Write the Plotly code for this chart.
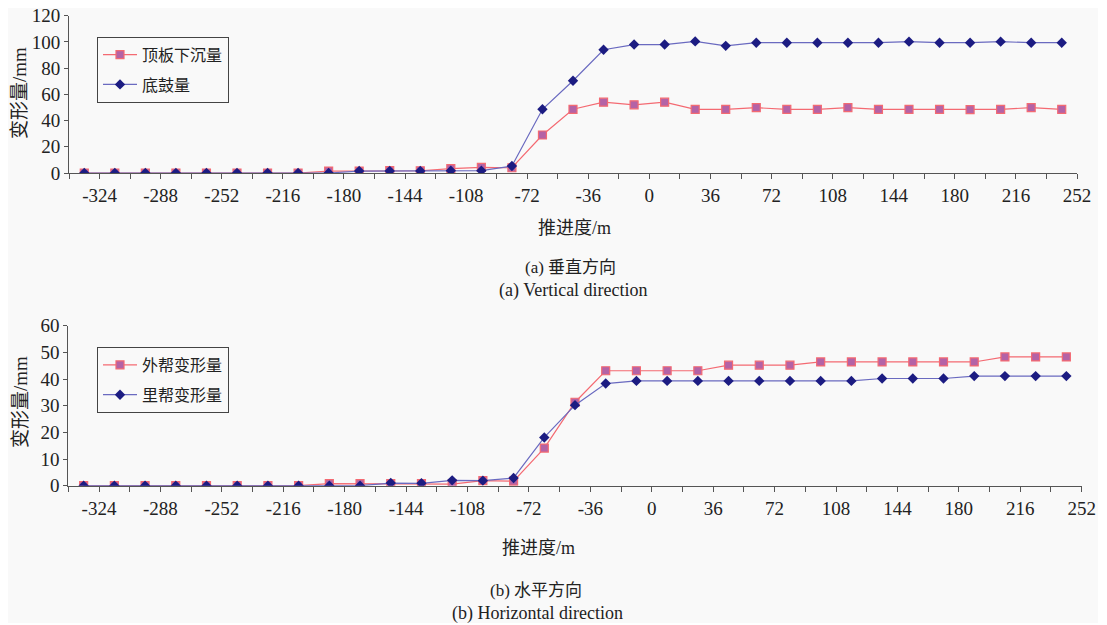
import plotly.graph_objects as go

# 推进度 (m) positions of the measuring points
advance = [-333, -315, -297, -279, -261, -243, -225, -207, -189, -171, -153,
           -135, -117, -99, -81, -63, -45, -27, -9, 9, 27, 45, 63, 81, 99,
           117, 135, 153, 171, 189, 207, 225, 243]

# (a) vertical direction
roof_sag = [0, 0, 0, 0, 0, 0, 0, 0, 1.5, 1.5, 1.8, 1.7, 3.3, 4.3, 4, 29, 48.6,
            54, 52, 54, 48.6, 48.6, 49.8, 48.6, 48.6, 49.8, 48.6, 48.6, 48.6,
            48.4, 48.6, 49.8, 48.6]
floor_heave = [0, 0, 0, 0, 0, 0, 0, 0, 0, 1.5, 1.5, 1.5, 1.8, 1.8, 5.3, 48.6,
               70.4, 94, 98, 98, 100.4, 97, 99.4, 99.4, 99.4, 99.4, 99.4, 100.2,
               99.4, 99.4, 100.2, 99.4, 99.4]

# (b) horizontal direction
outer_rib = [0, 0, 0, 0, 0, 0, 0, 0, 0.75, 0.75, 0.8, 0.75, 0.6, 1.9, 1.7, 14.1,
             31.3, 43.1, 43.1, 43.1, 43.1, 45.2, 45.2, 45.2, 46.4, 46.4, 46.4,
             46.4, 46.4, 46.4, 48.3, 48.3, 48.3]
inner_rib = [0, 0, 0, 0, 0, 0, 0, 0, 0, 0, 1.0, 0.9, 2.0, 1.9, 2.9, 18.1, 30.2,
             38.3, 39.3, 39.3, 39.3, 39.3, 39.3, 39.3, 39.3, 39.3, 40.2, 40.2,
             40.2, 41.1, 41.1, 41.1, 41.1]

tick_vals = [-324, -288, -252, -216, -180, -144, -108, -72, -36, 0, 36, 72,
             108, 144, 180, 216, 252]
tick_text = ["-324", "-288", "-252", "-216", "-180", "-144", "-108", "-72",
             "-36", "0", "36", "72", "108", "144", "180", "216", "252"]

# the page body has an 8px margin; the figure sits at (8, 8)
OFF = 8
W, H = 1090, 615
SERIF = "Liberation Serif, Times New Roman, Noto Sans CJK SC, serif"
CJK = "Noto Sans CJK SC, Liberation Serif, sans-serif"
BG = "#f9f9f9"
AX = "#555555"


def fx(px):
    return (px - OFF) / W


def fy(py):
    return 1 - (py - OFF) / H


red_line = "#f46a72"
red_fill = "#b463a6"
blue_line = "#6a6ac0"
blue_fill = "#1c1c82"

fig = go.Figure()


def add_pair(ys_sq, ys_di, name_sq, name_di, xa, ya, leg):
    fig.add_trace(go.Scatter(
        x=advance, y=ys_sq, name=name_sq, mode="lines+markers",
        line=dict(color=red_line, width=1.2),
        marker=dict(symbol="square", size=8, color=red_fill,
                    line=dict(color=red_line, width=1.2)),
        xaxis=xa, yaxis=ya, legend=leg, legendgroup=leg + "a"))
    fig.add_trace(go.Scatter(
        x=advance, y=ys_di, name=name_di, mode="lines+markers",
        line=dict(color=blue_line, width=1.2),
        marker=dict(symbol="diamond", size=8, color=blue_fill,
                    line=dict(color=blue_fill, width=0)),
        xaxis=xa, yaxis=ya, legend=leg, legendgroup=leg + "b"))


add_pair(roof_sag, floor_heave, "顶板下沉量", "底鼓量", "x", "y", "legend")
add_pair(outer_rib, inner_rib, "外帮变形量", "里帮变形量", "x2", "y2", "legend2")

xcommon = dict(
    range=[-342, 252], tickvals=tick_vals, ticktext=tick_text,
    ticks="outside", ticklen=5,
    tickcolor=AX, showline=True, linecolor=AX, linewidth=1,
    showgrid=False, zeroline=False, automargin=False,
    ticklabeloverflow="allow",
    tickfont=dict(family=SERIF, size=19, color="#222"),
    minor=dict(dtick=18, tick0=-342, ticks="outside", ticklen=5,
               tickcolor=AX, showgrid=False),
)
ycommon = dict(
    ticks="outside", ticklen=4, tickcolor=AX, showline=True, linecolor=AX,
    linewidth=1, showgrid=False, zeroline=False, automargin=False,
    ticklabeloverflow="allow",
    tickfont=dict(family=SERIF, size=19, color="#222"),
)

legcommon = dict(
    bgcolor=BG, bordercolor="#444", borderwidth=1,
    font=dict(family=CJK, size=16, color="#222"),
    xanchor="left", yanchor="top", tracegroupgap=6, traceorder="grouped",
    itemwidth=34,
)

fig.update_layout(
    width=W, height=H,
    margin=dict(l=0, r=0, t=0, b=0, pad=0, autoexpand=False),
    paper_bgcolor=BG, plot_bgcolor=BG, showlegend=True,
    xaxis=dict(domain=[fx(69), fx(1077)], anchor="y", **xcommon),
    yaxis=dict(domain=[fy(173), fy(15.7)], anchor="x",
               range=[0, 120], dtick=20, **ycommon),
    xaxis2=dict(domain=[fx(68.3), fx(1081.7)], anchor="y2", **xcommon),
    yaxis2=dict(domain=[fy(485.7), fy(325.7)], anchor="x2",
                range=[0, 60], dtick=10, **ycommon),
    legend=dict(x=fx(97), y=fy(36.7), **legcommon),
    legend2=dict(x=fx(97), y=fy(347), **legcommon),
)


def ann(text, xpx, ypx, size, angle=0, fam=SERIF):
    fig.add_annotation(
        text=text, x=fx(xpx), y=fy(ypx), xref="paper", yref="paper",
        showarrow=False, textangle=angle, xanchor="center", yanchor="middle",
        font=dict(family=fam, size=size, color="#222"))


ann("变形量/mm", 20, 93, 19, -90)
ann("变形量/mm", 20, 402, 19, -90)
ann("推进度/m", 574, 228, 18)
ann("(a) 垂直方向", 571, 267, 17)
ann("(a) Vertical direction", 573, 290, 18)
ann("推进度/m", 538, 548, 18)
ann("(b) 水平方向", 536, 590, 17)
ann("(b) Horizontal direction", 537, 613, 18)

fig.write_html("out.html")
